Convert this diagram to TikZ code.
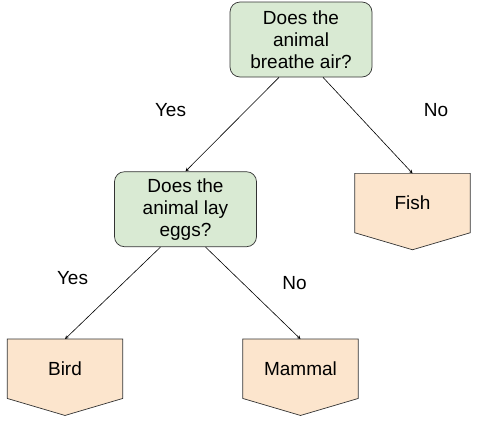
\documentclass[tikz,border=0pt]{standalone}
\usepackage{fontspec}
\setmainfont{Liberation Sans}
\usetikzlibrary{arrows,positioning,backgrounds}
\definecolor{qgreen}{HTML}{D9EAD3}
\definecolor{lorange}{HTML}{FCE5CD}

\newcommand{\leafshape}[1]{%
	\draw[draw=black!80,fill=lorange,line width=0.7pt]
		(#1.north west) -- (#1.north east) -- (#1.south east)
		-- ([yshift=-17pt]#1.south) -- (#1.south west) -- cycle;}

\begin{document}
\begin{tikzpicture}[x=1pt,y=-1pt,
			question/.style={rectangle,rounded corners=10pt,draw=black!80,
				fill=qgreen,line width=0.7pt,minimum width=142pt,
				minimum height=75pt,align=center,
				font=\fontsize{19}{22}\selectfont},
			leaf/.style={rectangle,minimum width=115pt,minimum height=59pt,
				font=\fontsize{19}{22}\selectfont},
			answer/.style={font=\fontsize{19}{22}\selectfont},
			link/.style={-stealth,line width=0.6pt}]
	\useasboundingbox (0,0) rectangle (489,432);
	
	\node[question] (air) at (301,39.5) {Does the\\animal\\breathe air?};
	\node[question] (eggs) [below=94pt of air,xshift=-115.5pt] {Does the\\animal lay\\eggs?};
	\node[leaf] (fish) [below=96pt of air,xshift=111.5pt] {Fish};
	\node[leaf] (bird) [below=92pt of eggs,xshift=-120.5pt] {Bird};
	\node[leaf] (mammal) [below=92pt of eggs,xshift=115pt] {Mammal};
	
	% pentagon outlines behind the leaf texts
	\begin{pgfonlayer}{background}
		\leafshape{fish}
		\leafshape{bird}
		\leafshape{mammal}
	\end{pgfonlayer}
	
	\draw[link] ([xshift=-22pt]air.south) -- (eggs.north);
	\draw[link] ([xshift=22pt]air.south) -- (fish.north);
	\draw[link] ([xshift=-25pt]eggs.south) -- (bird.north);
	\draw[link] ([xshift=20pt]eggs.south) -- (mammal.north);
	
	\node[answer] (yes1) at (170.5,110) {Yes};
	\node[answer] (no1) at (436,110) {No};
	\node[answer] (yes2) at (72.5,278) {Yes};
	\node[answer] (no2) at (294.5,283) {No};
	
\end{tikzpicture}
\end{document}
